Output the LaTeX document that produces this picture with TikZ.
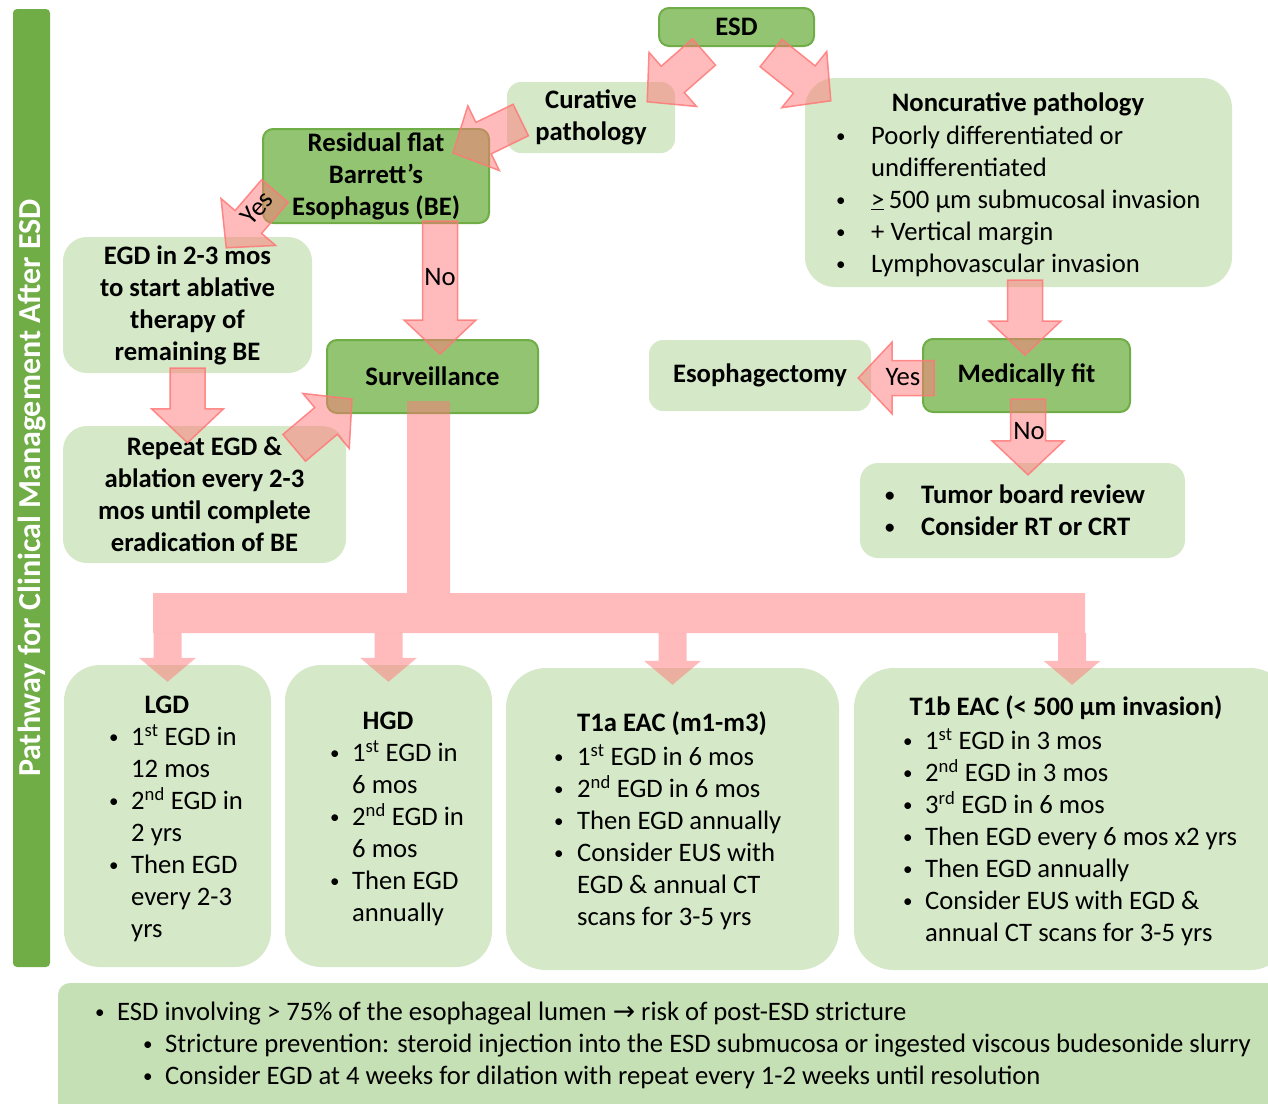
\documentclass[tikz,border=0pt]{standalone}
\usepackage{fontspec}
\setmainfont{Carlito}
\newfontfamily\arrowfont{DejaVu Sans}
\usetikzlibrary{calc,positioning}

\definecolor{barGreen}{RGB}{112,173,71}
\definecolor{darkFill}{RGB}{147,196,114}
\definecolor{lightFill}{RGB}{213,232,200}
\definecolor{noteFill}{RGB}{197,224,180}
\definecolor{arrowRed}{RGB}{255,120,120}

\newcommand{\mainsz}{\fontsize{26.67}{32}\selectfont}
\newcommand{\bul}[1][31pt]{\makebox[#1][l]{\raisebox{1.5pt}{\fontsize{19}{24}\selectfont\textbullet}}}
\newcommand{\bulind}[1][31pt]{\hspace*{#1}}

\tikzstyle{darkbox} = [draw=barGreen, line width=2pt, fill=darkFill,
    rounded corners=10pt, align=center, font=\mainsz\bfseries]
\tikzstyle{lightbox} = [fill=lightFill, rounded corners=20pt,
    align=center, font=\mainsz\bfseries]
\tikzstyle{listtxt} = [anchor=west, align=left, font=\mainsz]
\tikzstyle{boldtxt} = [font=\mainsz\bfseries]

\tikzset{
  blk/.style n args={3}{to path={
    let \p1=(\tikztostart), \p2=(\tikztotarget),
        \n1={atan2(\y2-\y1,\x2-\x1)} in
    ($(\p1)+(\n1+90:#1)$) -- ($(\p2)+(\n1+180:#3)+(\n1+90:#1)$)
    -- ($(\p2)+(\n1+180:#3)+(\n1+90:#2)$) -- (\p2)
    -- ($(\p2)+(\n1+180:#3)+(\n1-90:#2)$)
    -- ($(\p2)+(\n1+180:#3)+(\n1-90:#1)$)
    -- ($(\p1)+(\n1-90:#1)$) -- cycle}},
  bigarrow/.style={blk={17.5pt}{36pt}{34pt}, fill=arrowRed, fill opacity=.5,
    draw=arrowRed, draw opacity=.85, line width=1.5pt},
  dnarrow/.style={blk={14pt}{28.5pt}{24pt}, fill=arrowRed, fill opacity=.5},
}

\begin{document}
\begin{tikzpicture}[x=1pt, y=-1pt, every node/.style={inner sep=0pt, font=\mainsz}]
  \useasboundingbox (0,0) rectangle (1268,1103);
  \clip (0,0) rectangle (1268,1103);

  % side title
  \node[fill=barGreen, rounded corners=4pt, rotate=90, minimum width=958pt,
        minimum height=37pt, text=white, font=\fontsize{32}{38}\selectfont\bfseries]
        (side) at (31.5,488) {Pathway for Clinical Management After ESD};

  % top part
  \node[darkbox, minimum width=155pt, minimum height=38pt] (esd) at (736.5,27) {ESD};
  \node[lightbox, minimum width=168pt, minimum height=71pt, rounded corners=14pt]
        (cur) at (591,117.5) {Curative\\pathology};
  \node[lightbox, minimum width=427pt, minimum height=209pt, rounded corners=30pt]
        (noncur) at (1018.5,182.5) {};
  \node[boldtxt] (noncurT) at (1018,104) {Noncurative pathology};
  \node[listtxt] (noncurL) at (836,201) {\bul[35pt]Poorly differentiated or\\
        \bulind[35pt]undifferentiated\\
        \bul[35pt]\underline{>}\,500 µm submucosal invasion\\
        \bul[35pt]+ Vertical margin\\
        \bul[35pt]Lymphovascular invasion};
  \node[darkbox, minimum width=226pt, minimum height=94pt] (res) at (376,176)
        {Residual flat\\Barrett’s\\Esophagus (BE)};
  \node[lightbox, minimum width=249pt, minimum height=136pt, rounded corners=24pt]
        (egd) at (187.5,305) {EGD in 2-3 mos\\to start ablative\\therapy of\\remaining BE};
  \node[darkbox, minimum width=211pt, minimum height=73pt] (surv) at (432.5,376.5) {Surveillance};
  \node[lightbox, minimum width=283pt, minimum height=137pt, rounded corners=24pt]
        (rep) at (204.5,494.5) {Repeat EGD \&\\ablation every 2-3\\mos until complete\\eradication of BE};
  \node[lightbox, minimum width=222pt, minimum height=71pt, rounded corners=14pt]
        (esoph) at (760,375.5) {Esophagectomy};
  \node[darkbox, minimum width=207pt, minimum height=73pt] (med) at (1026.5,375.5) {Medically fit};
  \node[lightbox, minimum width=325pt, minimum height=95pt, rounded corners=18pt]
        (tum) at (1022.5,510.5) {};
  \node[listtxt, font=\mainsz\bfseries] (tumL) at (885,510)
        {\bul[36pt]Tumor board review\\\bul[36pt]Consider RT or CRT};

  % surveillance boxes
  \node[lightbox, minimum width=207pt, minimum height=302pt, rounded corners=36pt] (lgd) at (167.5,816) {};
  \node[lightbox, minimum width=207pt, minimum height=302pt, rounded corners=36pt] (hgd) at (388.5,816) {};
  \node[lightbox, minimum width=333pt, minimum height=302pt, rounded corners=40pt] (tia) at (672.5,819) {};
  \node[lightbox, minimum width=436pt, minimum height=302pt, rounded corners=40pt] (tib) at (1072,819) {};

  \node[boldtxt] (lgdT) at (167,705) {LGD};
  \node[listtxt] (lgdL) at (109,833) {\bul[22pt]1\textsuperscript{st} EGD in\\
        \bulind[22pt]12 mos\\
        \bul[22pt]2\textsuperscript{nd} EGD in\\
        \bulind[22pt]2 yrs\\
        \bul[22pt]Then EGD\\
        \bulind[22pt]every 2-3\\
        \bulind[22pt]yrs};
  \node[boldtxt] (hgdT) at (388,721) {HGD};
  \node[listtxt] (hgdL) at (330,833) {\bul[22pt]1\textsuperscript{st} EGD in\\
        \bulind[22pt]6 mos\\
        \bul[22pt]2\textsuperscript{nd} EGD in\\
        \bulind[22pt]6 mos\\
        \bul[22pt]Then EGD\\
        \bulind[22pt]annually};
  \node[boldtxt] (tiaT) at (672,724) {T1a EAC (m1-m3)};
  \node[listtxt] (tiaL) at (554,837) {\bul[23pt]1\textsuperscript{st} EGD in 6 mos\\
        \bul[23pt]2\textsuperscript{nd} EGD in 6 mos\\
        \bul[23pt]Then EGD annually\\
        \bul[23pt]Consider EUS with\\
        \bulind[23pt]EGD \& annual CT\\
        \bulind[23pt]scans for 3-5 yrs};
  \node[boldtxt] (tibT) at (1066,708) {T1b EAC (< 500 µm invasion)};
  \node[listtxt] (tibL) at (903,837) {\bul[22pt]1\textsuperscript{st} EGD in 3 mos\\
        \bul[22pt]2\textsuperscript{nd} EGD in 3 mos\\
        \bul[22pt]3\textsuperscript{rd} EGD in 6 mos\\
        \bul[22pt]Then EGD every 6 mos x2 yrs\\
        \bul[22pt]Then EGD annually\\
        \bul[22pt]Consider EUS with EGD \&\\
        \bulind[22pt]annual CT scans for 3-5 yrs};

  % stricture note
  \node[fill=noteFill, rounded corners=12pt, minimum width=1242pt, minimum height=147pt]
        (note) at (679,1056.5) {};
  \node[listtxt] (noteL) at (95,1045)
        {\bul[22pt]ESD involving > 75\% of the esophageal lumen {\arrowfont →} risk of post-ESD stricture\\
        \bulind[48pt]\bul[22pt]Stricture prevention: steroid injection into the ESD submucosa or ingested viscous budesonide slurry\\
        \bulind[48pt]\bul[22pt]Consider EGD at 4 weeks for dilation with repeat every 1-2 weeks until resolution};

  % block arrows
  \draw[bigarrow] ($(esd.south)+(-32.5,5)$) to ($(cur.north east)+(-28,20)$);
  \draw[bigarrow] ($(esd.south)+(34.5,6)$) to ($(noncur.north west)+(26,23)$);
  \draw[bigarrow] ($(cur.west)+(14,2.5)$) to ($(res.north east)+(-37,25)$);
  \draw[bigarrow] ($(res.west)+(13,15)$) to ($(egd.north east)+(-86,11)$);
  \coordinate (noTail) at ($(res.south)+(64,-3)$);
  \draw[bigarrow] (noTail) to ($(noTail |- surv.north)+(0,15)$);
  \draw[bigarrow] ($(egd.south)+(0,-5)$) to ($(egd.south |- rep.north)+(0,17)$);
  \draw[bigarrow] ($(rep.north east)+(-52,22)$) to ($(surv.south west)+(26,-15)$);
  \coordinate (fitTail) at ($(noncur.south)+(6.5,-7)$);
  \draw[bigarrow] (fitTail) to ($(fitTail |- med.north)+(0,17)$);
  \coordinate (yesTail) at ($(med.west)+(12,2.5)$);
  \draw[bigarrow] (yesTail) to ($(yesTail -| esoph.east)+(-13,0)$);
  \coordinate (noTail2) at ($(med.south)+(1.5,-14)$);
  \draw[bigarrow] (noTail2) to ($(noTail2 |- tum.north)+(0,12)$);

  % trunk and bar to the surveillance boxes
  \coordinate (tk) at ($(surv.south)+(-4,-13)$);
  \coordinate (barL) at (153,593);
  \coordinate (barR) at (1085,633);
  \fill[arrowRed, fill opacity=.5] ($(tk)+(-21.5,0)$) -- ($(tk)+(21.5,0)$)
        |- ($(barR)+(0,-40)$) -- (barR) -- (barL |- barR) -- (barL)
        -| ($(tk)+(-21.5,0)$) -- cycle;
  \foreach \b in {lgd,hgd,tia,tib}
    \path[dnarrow] (\b.north |- barR) to ($(\b.north)+(0,17)$);

  % arrow labels
  \node[rotate=48] (yesA) at (257,208) {Yes};
  \node (noA) at (440,277) {No};
  \node (yesB) at (903,377) {Yes};
  \node (noB) at (1029,431) {No};
\end{tikzpicture}
\end{document}
